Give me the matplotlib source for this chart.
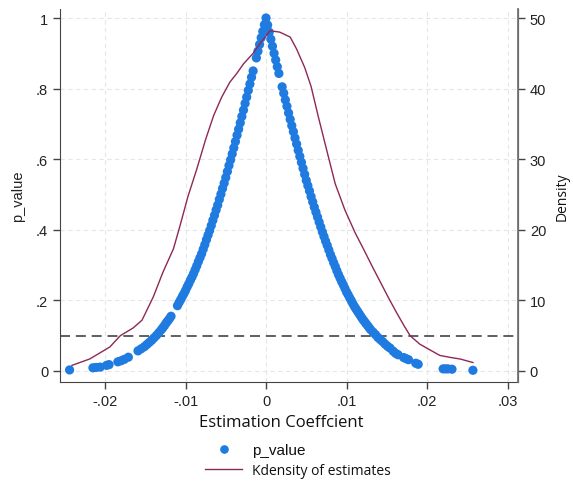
import matplotlib
matplotlib.use("Agg")
import matplotlib.pyplot as plt
from matplotlib.lines import Line2D

# placebo estimates (coefficient) and their p-values
coef_left = [
    0.0, -0.0002, -0.0004, -0.0006, -0.0008, -0.0010, -0.0012,
    -0.0016, -0.0018, -0.0020, -0.0022, -0.0024, -0.0026, -0.0028, -0.0030,
    -0.0032, -0.0034, -0.0036, -0.0038, -0.0040, -0.0042, -0.0044, -0.0046,
    -0.0048, -0.0050, -0.0052, -0.0054, -0.0056, -0.0058, -0.0060, -0.0062,
    -0.0064, -0.0066, -0.0068, -0.0070, -0.0072, -0.0074, -0.0076, -0.0078,
    -0.0080, -0.0082, -0.0084, -0.0086, -0.0088, -0.0090, -0.0092, -0.0094,
    -0.0096, -0.0098, -0.0100, -0.0102, -0.0104, -0.0106, -0.0108, -0.0110,
    -0.0118, -0.0120, -0.0122, -0.0124, -0.0126, -0.0128, -0.0130, -0.0133,
    -0.0136, -0.0139, -0.0142, -0.0145, -0.0148, -0.0151, -0.0155, -0.0159,
    -0.0171, -0.0176, -0.0180, -0.0184, -0.0195, -0.0198, -0.0206, -0.0211,
    -0.0215, -0.0244,
]
pval_left = [
    1.000, 0.981, 0.962, 0.944, 0.925, 0.906, 0.887,
    0.850, 0.832, 0.813, 0.795, 0.776, 0.758, 0.739, 0.721,
    0.703, 0.685, 0.668, 0.650, 0.632, 0.615, 0.598, 0.582,
    0.565, 0.548, 0.532, 0.517, 0.501, 0.486, 0.470, 0.456,
    0.441, 0.427, 0.412, 0.398, 0.385, 0.372, 0.358, 0.345,
    0.332, 0.321, 0.310, 0.298, 0.287, 0.276, 0.266, 0.257,
    0.247, 0.238, 0.228, 0.219, 0.211, 0.202, 0.194, 0.185,
    0.155, 0.148, 0.142, 0.136, 0.129, 0.123, 0.117, 0.109,
    0.101, 0.094, 0.087, 0.081, 0.075, 0.069, 0.063, 0.057,
    0.039, 0.033, 0.029, 0.026, 0.018, 0.016, 0.011, 0.010,
    0.009, 0.003,
]
coef_right = [
    0.0002, 0.0004, 0.0006, 0.0008, 0.0010, 0.0012, 0.0014, 0.0016,
    0.0020, 0.0022, 0.0024, 0.0026, 0.0028, 0.0030, 0.0032, 0.0034,
    0.0036, 0.0038, 0.0040, 0.0042, 0.0044, 0.0046, 0.0048, 0.0050,
    0.0052, 0.0054, 0.0056, 0.0058, 0.0060, 0.0062, 0.0064, 0.0066,
    0.0068, 0.0070, 0.0072, 0.0074, 0.0076, 0.0078, 0.0080, 0.0082,
    0.0084, 0.0086, 0.0088, 0.0090, 0.0092, 0.0094, 0.0096, 0.0098,
    0.0100, 0.0102, 0.0104, 0.0106, 0.0108, 0.0110, 0.0112, 0.0114,
    0.0116, 0.0118, 0.0120, 0.0122, 0.0124, 0.0126, 0.0128, 0.0130,
    0.0133, 0.0136, 0.0139, 0.0142, 0.0145, 0.0148, 0.0151, 0.0154,
    0.0158, 0.0161, 0.0164, 0.0171, 0.0174, 0.0177, 0.0186, 0.0189,
    0.0220, 0.0223, 0.0226, 0.0231, 0.0257,
]
pval_right = [
    0.980, 0.960, 0.940, 0.920, 0.900, 0.881, 0.862, 0.843,
    0.805, 0.787, 0.768, 0.750, 0.731, 0.713, 0.695, 0.678,
    0.660, 0.643, 0.625, 0.608, 0.591, 0.574, 0.557, 0.540,
    0.525, 0.510, 0.494, 0.479, 0.464, 0.450, 0.436, 0.422,
    0.408, 0.394, 0.381, 0.368, 0.356, 0.343, 0.330, 0.319,
    0.307, 0.296, 0.284, 0.273, 0.263, 0.253, 0.244, 0.234,
    0.224, 0.216, 0.207, 0.199, 0.190, 0.182, 0.175, 0.168,
    0.161, 0.154, 0.147, 0.141, 0.135, 0.129, 0.123, 0.117,
    0.110, 0.103, 0.095, 0.089, 0.083, 0.076, 0.070, 0.065,
    0.056, 0.050, 0.046, 0.038, 0.035, 0.032, 0.022, 0.019,
    0.006, 0.006, 0.006, 0.005, 0.002,
]

# kernel density of the estimates (right axis)
kd_x = [
    -0.0241, -0.0219, -0.0194, -0.0181, -0.0165, -0.0154, -0.0140, -0.0128,
    -0.0115, -0.0107, -0.0097, -0.0086, -0.0075, -0.0065, -0.0055, -0.0045,
    -0.0036, -0.0028, -0.0016, -0.0008, 0.0005, 0.0017, 0.0030, 0.0038,
    0.0048, 0.0056, 0.0065, 0.0076, 0.0086, 0.0098, 0.0111, 0.0121,
    0.0132, 0.0142, 0.0152, 0.0162, 0.0171, 0.0179, 0.0191, 0.0205,
    0.0216, 0.0230, 0.0241, 0.0257,
]
kd_y = [
    0.8, 1.7, 3.4, 5.0, 6.1, 7.2, 10.5, 14.0,
    17.3, 20.5, 24.7, 28.6, 32.8, 36.2, 38.8, 40.9,
    42.2, 43.5, 45.0, 46.3, 48.2, 48.0, 47.3, 45.6,
    43.0, 40.3, 36.0, 31.0, 26.5, 22.8, 19.5, 17.3,
    14.8, 12.6, 10.4, 8.3, 6.5, 5.0, 3.8, 2.9,
    2.2, 1.9, 1.7, 1.2,
]

x_ticks = [-0.02, -0.01, 0.0, 0.01, 0.02, 0.03]
x_labels = ["-.02", "-.01", "0", ".01", ".02", ".03"]
y_ticks = [0.0, 0.2, 0.4, 0.6, 0.8, 1.0]
y_labels = ["0", ".2", ".4", ".6", ".8", "1"]
d_ticks = [0, 10, 20, 30, 40, 50]
cutoff = 0.1

BLUE = "#1f7be0"
MAROON = "#8e2856"
TICK_FONT = "Liberation Sans"
LABEL_FONT = "Open Sans"

plt.rcParams["font.family"] = [TICK_FONT, "DejaVu Sans"]

fig = plt.figure(figsize=(5.73, 4.85), dpi=100)
ax = fig.add_axes([60 / 573, 102 / 485, 458 / 573, 373 / 485])
ax2 = ax.twinx()

ax.axhline(cutoff, color="#444444", lw=1.2, ls=(0, (6, 3.5)), zorder=1)
ax.scatter(coef_left + coef_right, pval_left + pval_right, s=44, color=BLUE,
           edgecolors="none", zorder=2)
ax2.plot(kd_x, kd_y, color=MAROON, lw=1.0)

ax.set_xlim(-0.02559, 0.0313)
ax.set_ylim(-0.0312, 1.0255)
ax2.set_ylim(-0.0312 * 50, 1.0255 * 50)

ax.set_xticks(x_ticks)
ax.set_xticklabels(x_labels)
ax.set_yticks(y_ticks)
ax.set_yticklabels(y_labels)
ax2.set_yticks(d_ticks)

ax.grid(True, color="#e6e6e6", lw=0.8, ls=(0, (4, 3)))
ax.set_axisbelow(True)

for a in (ax, ax2):
    a.spines["top"].set_visible(False)
    a.tick_params(labelsize=10.5, length=5, width=1, color="#444444",
                  labelcolor="#222222")
ax.spines["left"].set_color("#444444")
ax.spines["bottom"].set_color("#444444")
ax2.spines["left"].set_visible(False)
ax2.spines["bottom"].set_visible(False)
ax2.spines["right"].set_color("#777777")
ax2.spines["right"].set_linewidth(1.3)

ax.set_ylabel("p_value", fontsize=10.5, color="#222222", labelpad=8)
ax2.set_ylabel("Density", fontsize=10, family=LABEL_FONT, color="#111111",
               labelpad=6)
fig.text(281 / 573, 1 - 423 / 485, "Estimation Coeffcient", ha="center",
         va="center", fontsize=12, family=LABEL_FONT, color="#111111")

handles = [
    Line2D([], [], marker="o", ls="none", ms=5.2, color=BLUE),
    Line2D([], [], color=MAROON, lw=1.0),
]
leg = fig.legend(handles, ["p_value", "Kdensity of estimates"],
                 loc="upper left", bbox_to_anchor=(205 / 573, 1 - 444 / 485),
                 frameon=False, borderpad=0, borderaxespad=0,
                 handlelength=2.45, handletextpad=0.65, labelspacing=0.42,
                 fontsize=11)
leg.get_texts()[1].set_fontfamily(LABEL_FONT)
leg.get_texts()[1].set_fontsize(10)
for t in leg.get_texts():
    t.set_color("#111111")

fig.savefig("out.png", dpi=100)
